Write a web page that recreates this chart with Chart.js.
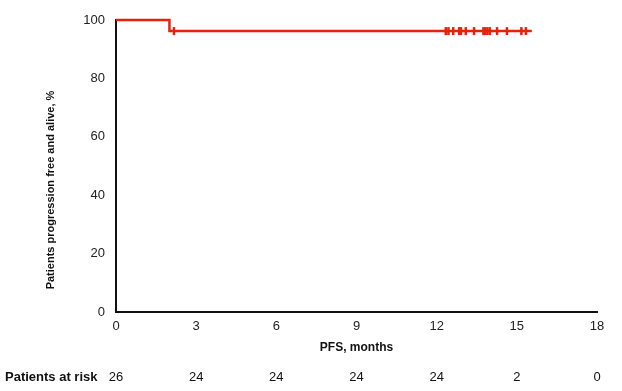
<!DOCTYPE html>
<html>
<head>
<meta charset="utf-8">
<script src="https://cdn.jsdelivr.net/npm/chart.js@4/dist/chart.umd.min.js"></script>
<style>
  html, body { margin: 0; padding: 0; background: #fff; }
  #wrap { width: 622px; height: 391px; }
</style>
</head>
<body>
<div id="wrap"><canvas id="km" width="622" height="391"></canvas></div>
<script>
// Kaplan-Meier step curve (months, % progression free and alive)
const stepMonths = [0, 2.0, 15.56];
const stepSurvival = [100, 96.2, 96.2];

// censoring ticks
const censorMonths = [2.17, 12.34, 12.44, 12.62, 12.84, 12.91, 13.09, 13.40, 13.75, 13.82, 13.90, 13.99, 14.26, 14.63, 15.17, 15.34];
const censorSurvival = [96.2, 96.2, 96.2, 96.2, 96.2, 96.2, 96.2, 96.2, 96.2, 96.2, 96.2, 96.2, 96.2, 96.2, 96.2, 96.2];

// number at risk row
const riskMonths = [0, 3, 6, 9, 12, 15, 18];
const atRisk = [26, 24, 24, 24, 24, 2, 0];

const xTicks = [0, 3, 6, 9, 12, 15, 18];
const yTicks = [0, 20, 40, 60, 80, 100];

const red = '#e8200e';
const font = 'Liberation Sans, Arial, sans-serif';

const extraText = {
  id: 'extraText',
  afterDraw(chart) {
    const ctx = chart.ctx;
    const xs = chart.scales.x;
    ctx.save();
    ctx.fillStyle = '#111';
    // y axis title, sits a bit below the plot's middle
    ctx.font = 'bold 11px ' + font;
    ctx.textAlign = 'center';
    ctx.textBaseline = 'middle';
    ctx.translate(51, 190);
    ctx.rotate(-Math.PI / 2);
    ctx.fillText('Patients progression free and alive, %', 0, 0);
    ctx.restore();

    ctx.save();
    ctx.fillStyle = '#111';
    ctx.textBaseline = 'middle';
    ctx.font = 'bold 13px ' + font;
    ctx.textAlign = 'left';
    ctx.fillText('Patients at risk', 5, 377);
    ctx.font = '13px ' + font;
    ctx.textAlign = 'center';
    riskMonths.forEach((m, i) => {
      ctx.fillText(String(atRisk[i]), xs.getPixelForValue(m), 377);
    });
    ctx.restore();
  }
};

new Chart(document.getElementById('km').getContext('2d'), {
  type: 'line',
  data: {
    datasets: [{
      data: stepMonths.map((m, i) => ({ x: m, y: stepSurvival[i] })),
      borderColor: red,
      borderWidth: 2.5,
      stepped: 'before',
      pointRadius: 0,
      fill: false,
      clip: false
    }, {
      data: censorMonths.map((m, i) => ({ x: m, y: censorSurvival[i] })),
      showLine: false,
      pointStyle: 'line',
      rotation: 90,
      pointRadius: 4,
      borderColor: red,
      borderWidth: 2.5,
      backgroundColor: red,
      clip: false
    }]
  },
  options: {
    responsive: false,
    animation: false,
    layout: { padding: { top: 20, right: 25, left: 0, bottom: 0 } },
    plugins: { legend: { display: false }, tooltip: { enabled: false } },
    scales: {
      x: {
        type: 'linear',
        min: 0,
        max: 18,
        afterBuildTicks(scale) { scale.ticks = xTicks.map(v => ({ value: v })); },
        afterFit(scale) { scale.height = 79; },
        border: { color: '#111', width: 2 },
        grid: { display: false, drawOnChartArea: false, drawTicks: true, tickLength: 5, tickColor: '#111', tickWidth: 1.5 },
        ticks: { color: '#222', font: { family: font, size: 13 }, padding: 2, maxRotation: 0 },
        title: { display: true, text: 'PFS, months', color: '#111', font: { family: font, size: 12, weight: 'bold' }, padding: { top: 4, bottom: 36 } }
      },
      y: {
        min: 0,
        max: 100,
        afterBuildTicks(scale) { scale.ticks = yTicks.map(v => ({ value: v })); },
        afterFit(scale) { scale.width = 116; },
        border: { color: '#111', width: 2 },
        grid: { display: false, drawOnChartArea: false, drawTicks: true, tickLength: 6, tickColor: '#111', tickWidth: 1.5 },
        ticks: { color: '#222', font: { family: font, size: 13 }, padding: 5 }
      }
    }
  },
  plugins: [extraText]
});
</script>
</body>
</html>
